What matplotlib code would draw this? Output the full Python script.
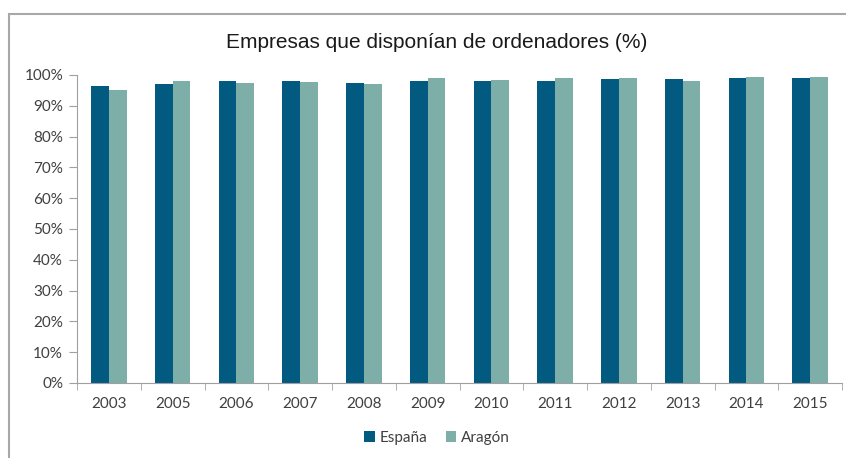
import matplotlib.pyplot as plt
import numpy as np
from matplotlib.patches import Rectangle
from matplotlib.ticker import PercentFormatter

years = ['2003', '2005', '2006', '2007', '2008', '2009',
         '2010', '2011', '2012', '2013', '2014', '2015']
espana = [96.4, 97.1, 98.2, 98.0, 97.4, 98.2, 98.2, 98.2, 98.6, 98.6, 98.9, 98.9]
aragon = [95.1, 98.0, 97.3, 97.8, 97.1, 98.9, 98.4, 98.9, 98.9, 98.2, 99.4, 99.3]

c_esp = '#035a80'
c_ara = '#7eaea8'

fig = plt.figure(figsize=(8.46, 4.58), dpi=100)
ax = fig.add_axes([77 / 846, 75 / 458, 765 / 846, 308 / 458])

x = np.arange(len(years))
w = 0.28
ax.bar(x - w / 2, espana, w, color=c_esp, label='España')
ax.bar(x + w / 2, aragon, w, color=c_ara, label='Aragón')

ax.set_xlim(-0.5, len(years) - 0.5)
ax.set_ylim(0, 100)
ax.set_yticks(np.arange(0, 101, 10))
ax.yaxis.set_major_formatter(PercentFormatter(decimals=0))
ax.set_xticks(x)
ax.set_xticklabels(years)
ax.set_xticks(np.arange(-0.5, len(years), 1), minor=True)
ax.tick_params(axis='x', which='major', length=0, pad=10)
ax.tick_params(axis='x', which='minor', length=5, color='#a0a0a0')
ax.tick_params(axis='y', length=6, color='#a0a0a0', pad=4)
ax.tick_params(labelsize=11, labelcolor='#404040')
for lbl in ax.get_xticklabels() + ax.get_yticklabels():
    lbl.set_family('Lato')

for s in ['top', 'right']:
    ax.spines[s].set_visible(False)
ax.spines['left'].set_color('#a0a0a0')
ax.spines['bottom'].set_color('#a0a0a0')

fig.text(437 / 846, 1 - 42 / 458, 'Empresas que disponían de ordenadores (%)',
         ha='center', va='center', fontsize=15, family='Liberation Sans', color='#1a1a1a')

fig.legend(loc='center', bbox_to_anchor=(437 / 846, 1 - 438 / 458), ncol=2,
           frameon=False, handlelength=0.7, handleheight=0.7, handletextpad=0.3,
           columnspacing=1.2, prop={'family': 'Lato', 'size': 11}, labelcolor='#404040')

fig.patches.append(Rectangle((9 / 846, -0.1), 1.2, (458 - 14) / 458 + 0.1,
                             transform=fig.transFigure, fill=False,
                             edgecolor='#a8a8a8', lw=1.5))

fig.savefig('out.png', dpi=100)
